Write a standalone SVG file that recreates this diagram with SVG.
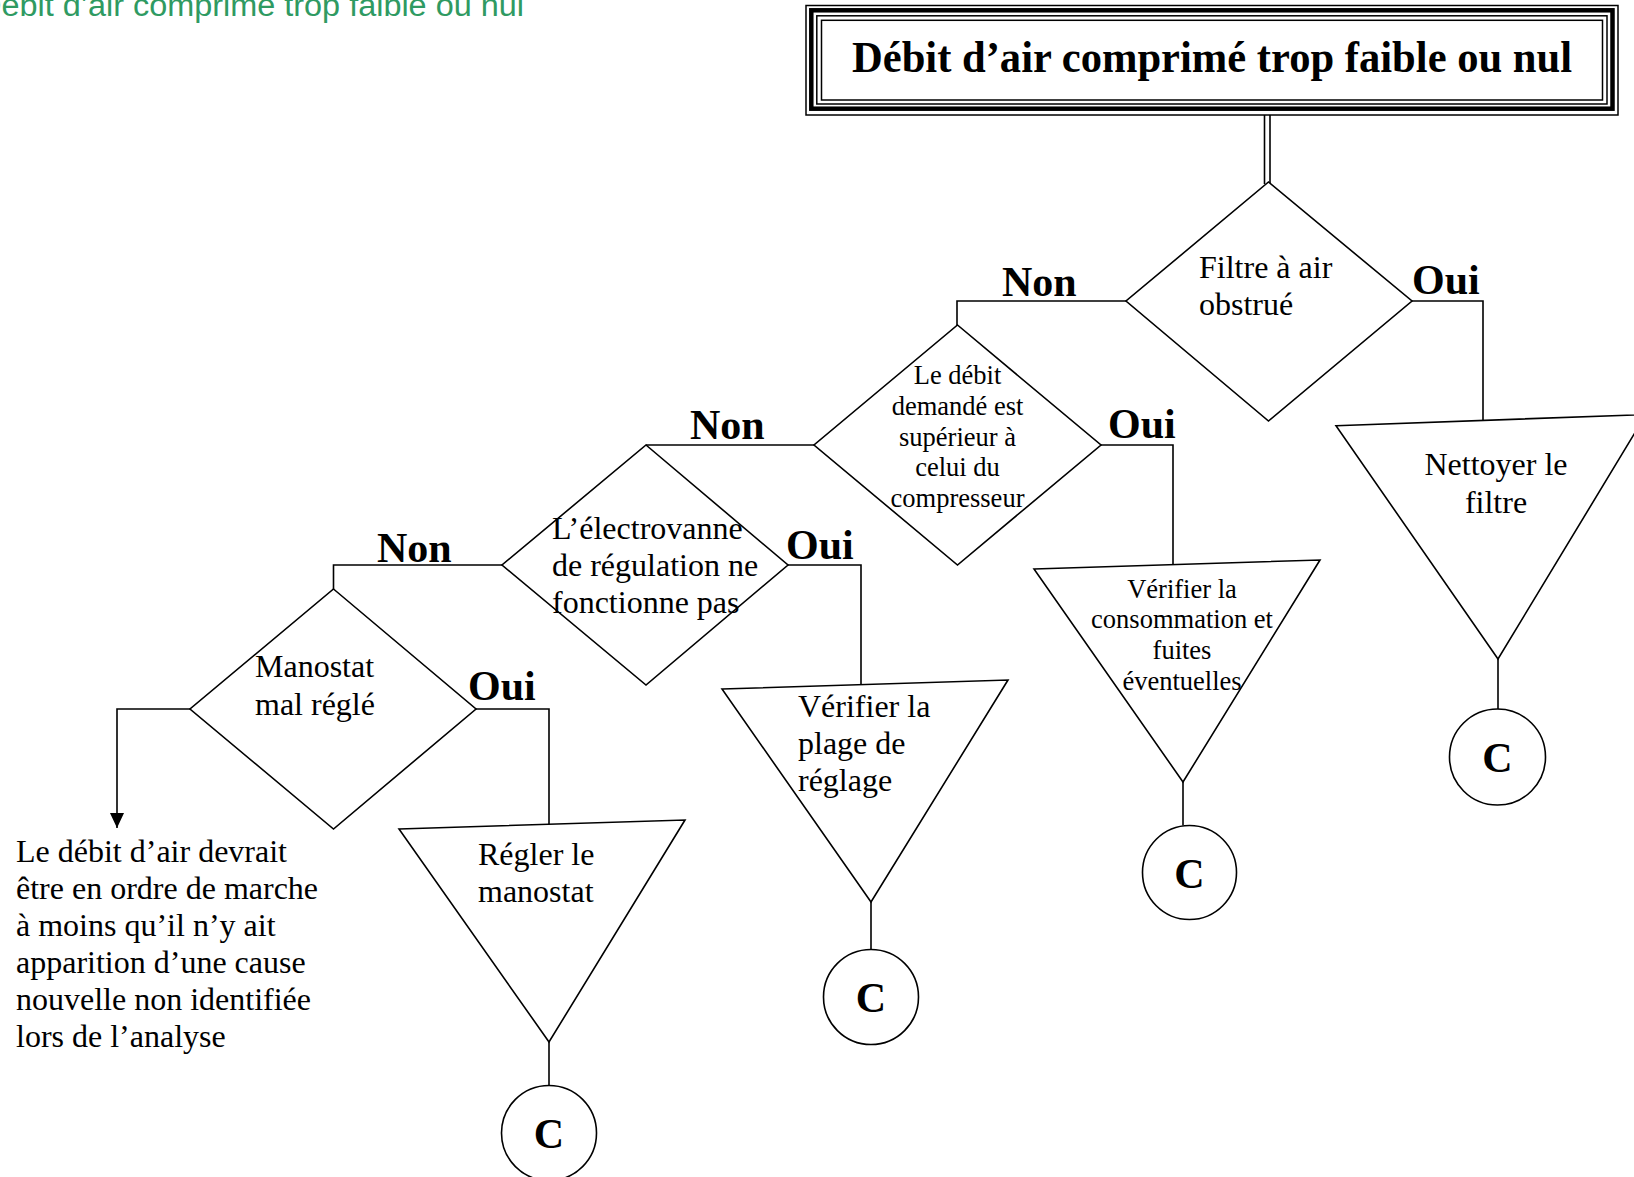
<svg xmlns="http://www.w3.org/2000/svg" width="1634" height="1177" viewBox="0 0 1634 1177">
  <style>
    .shape { fill: #ffffff; stroke: #000000; stroke-width: 1.6; stroke-linejoin: miter; }
    .wire { fill: none; stroke: #000000; stroke-width: 1.6; }
    .frame { fill: none; stroke: #000000; }
    .txt { font-family: "Liberation Serif", "Times New Roman", serif; font-size: 32px; fill: #000000; }
    .small { font-size: 26.5px; }
    .mid { text-anchor: middle; }
    .lbl { font-family: "Liberation Serif", "Times New Roman", serif; font-size: 42px; font-weight: bold; fill: #000000; }
    .cee { font-family: "Liberation Serif", "Times New Roman", serif; font-size: 42px; font-weight: bold; fill: #000000; text-anchor: middle; }
    .head { font-family: "Liberation Sans", Arial, sans-serif; font-size: 31px; fill: #2f9a62; }
  </style>
  <defs>
    <!-- solid arrowhead, drawn along +x so orient="auto" turns it with the line -->
    <marker id="arrow" viewBox="0 0 15 14" refX="15" refY="7" markerWidth="15" markerHeight="14" markerUnits="userSpaceOnUse" orient="auto">
      <path d="M0,0 L15,7 L0,14 Z" fill="#000000"/>
    </marker>
  </defs>

  <rect width="1634" height="1177" fill="#ffffff"/>

  <!-- running header, clipped at the page edge -->
  <text class="head" x="-22" y="16" textLength="546" lengthAdjust="spacingAndGlyphs">Débit d’air comprimé trop faible ou nul</text>

  <!-- connectors -->
  <g id="connectors">
    <!-- double line from the title box -->
    <line class="wire" x1="1264.5" y1="115" x2="1264.5" y2="184" stroke-width="2"/>
    <line class="wire" x1="1270" y1="115" x2="1270" y2="184" stroke-width="2"/>
    <!-- Filtre : Non / Oui -->
    <polyline class="wire" points="1126,301 957,301 957,325"/>
    <polyline class="wire" points="1412,301 1483,301 1483,420.5"/>
    <!-- Débit demandé : Non / Oui -->
    <polyline class="wire" points="814,445 646,445"/>
    <polyline class="wire" points="1101,445 1173,445 1173,564.5"/>
    <!-- Électrovanne : Non / Oui -->
    <polyline class="wire" points="502,565 333.5,565 333.5,589"/>
    <polyline class="wire" points="788,565 861,565 861,684.5"/>
    <!-- Manostat : Non / Oui -->
    <polyline class="wire" points="190,709 117,709 117,828" marker-end="url(#arrow)"/>
    <polyline class="wire" points="476,709 549,709 549,824.5"/>
    <!-- action to connector circle -->
    <line class="wire" x1="1498" y1="659" x2="1498" y2="709"/>
    <line class="wire" x1="1183" y1="782" x2="1183" y2="825.5"/>
    <line class="wire" x1="871" y1="902" x2="871" y2="949.5"/>
    <line class="wire" x1="549" y1="1042" x2="549" y2="1085.5"/>
  </g>

  <!-- title box with a triple border -->
  <g id="title">
    <rect x="806" y="5.5" width="812" height="109.5" fill="#ffffff" stroke="none"/>
    <rect class="frame" x="806" y="5.5" width="812" height="109.5" stroke-width="1.5"/>
    <rect class="frame" x="811.3" y="10.3" width="801.2" height="98.4" stroke-width="4.5"/>
    <rect class="frame" x="816.8" y="15.8" width="790.2" height="88.2" stroke-width="1.5"/>
    <rect class="frame" x="821.5" y="20.3" width="781" height="79.7" stroke-width="1.5"/>
    <text x="852" y="72" font-family="'Liberation Serif', 'Times New Roman', serif" font-size="44" font-weight="bold" textLength="720" lengthAdjust="spacingAndGlyphs">Débit d’air comprimé trop faible ou nul</text>
  </g>

  <!-- decision: air filter -->
  <g id="q-filtre">
    <polygon class="shape" points="1268.5,182 1412,301 1268.5,421 1126,301"/>
    <text class="txt" x="1199" y="278">Filtre à air</text>
    <text class="txt" x="1199" y="315">obstrué</text>
  </g>

  <!-- decision: demanded flow -->
  <g id="q-debit">
    <polygon class="shape" points="957.5,325 1101,445 957.5,565 814,445"/>
    <text class="txt small mid" x="957.5" y="384">Le débit</text>
    <text class="txt small mid" x="957.5" y="415">demandé est</text>
    <text class="txt small mid" x="957.5" y="445.5">supérieur à</text>
    <text class="txt small mid" x="957.5" y="476">celui du</text>
    <text class="txt small mid" x="957.5" y="507">compresseur</text>
  </g>

  <!-- decision: solenoid valve -->
  <g id="q-electrovanne">
    <polygon class="shape" points="646,445 788,565 646,685 502,565"/>
    <text class="txt" x="552" y="539">L’électrovanne</text>
    <text class="txt" x="552" y="576">de régulation ne</text>
    <text class="txt" x="552" y="613">fonctionne pas</text>
  </g>

  <!-- decision: pressure switch -->
  <g id="q-manostat">
    <polygon class="shape" points="333.5,589 476,709 333.5,829 190,709"/>
    <text class="txt" x="255" y="677">Manostat</text>
    <text class="txt" x="255" y="715">mal réglé</text>
  </g>

  <!-- branch labels -->
  <g id="labels">
    <text class="lbl" x="1002" y="296">Non</text>
    <text class="lbl" x="1412" y="294">Oui</text>
    <text class="lbl" x="690" y="439">Non</text>
    <text class="lbl" x="1108" y="438">Oui</text>
    <text class="lbl" x="377" y="562">Non</text>
    <text class="lbl" x="786" y="559">Oui</text>
    <text class="lbl" x="468" y="700">Oui</text>
  </g>

  <!-- action: clean the filter -->
  <g id="a-filtre">
    <polygon class="shape" points="1336,425.7 1646,414.5 1498,659"/>
    <text class="txt mid" x="1496" y="475">Nettoyer le</text>
    <text class="txt mid" x="1496" y="513">filtre</text>
  </g>

  <!-- action: check consumption and leaks -->
  <g id="a-consommation">
    <polygon class="shape" points="1034,569 1320,560 1183,782"/>
    <text class="txt small mid" x="1182" y="598">Vérifier la</text>
    <text class="txt small mid" x="1182" y="628">consommation et</text>
    <text class="txt small mid" x="1182" y="659">fuites</text>
    <text class="txt small mid" x="1182" y="690">éventuelles</text>
  </g>

  <!-- action: check the setting range -->
  <g id="a-plage">
    <polygon class="shape" points="722,689 1008,680 871,902"/>
    <text class="txt" x="798" y="717">Vérifier la</text>
    <text class="txt" x="798" y="754">plage de</text>
    <text class="txt" x="798" y="791">réglage</text>
  </g>

  <!-- action: adjust the pressure switch -->
  <g id="a-manostat">
    <polygon class="shape" points="399,829 685,820 549,1042"/>
    <text class="txt" x="478" y="865">Régler le</text>
    <text class="txt" x="478" y="902">manostat</text>
  </g>

  <!-- terminal note -->
  <g id="note">
    <text class="txt" x="16" y="862">Le débit d’air devrait</text>
    <text class="txt" x="16" y="899">être en ordre de marche</text>
    <text class="txt" x="16" y="936">à moins qu’il n’y ait</text>
    <text class="txt" x="16" y="973">apparition d’une cause</text>
    <text class="txt" x="16" y="1010">nouvelle non identifiée</text>
    <text class="txt" x="16" y="1047">lors de l’analyse</text>
  </g>

  <!-- connector circles -->
  <g id="c-1">
    <circle class="shape" cx="1497.5" cy="757" r="48"/>
    <text class="cee" x="1497.5" y="772">C</text>
  </g>
  <g id="c-2">
    <circle class="shape" cx="1189.5" cy="872.5" r="47"/>
    <text class="cee" x="1189.5" y="887.5">C</text>
  </g>
  <g id="c-3">
    <circle class="shape" cx="871" cy="997" r="47.5"/>
    <text class="cee" x="871" y="1012">C</text>
  </g>
  <g id="c-4">
    <circle class="shape" cx="549" cy="1133" r="47.5"/>
    <text class="cee" x="549" y="1148">C</text>
  </g>
</svg>
